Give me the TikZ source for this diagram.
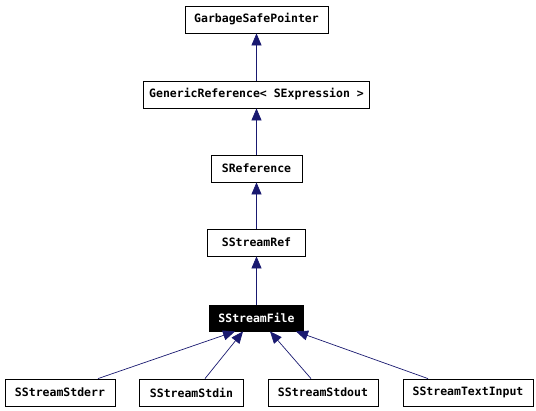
\documentclass[tikz,border=0pt]{standalone}
\usepackage{fontspec}
\setmonofont{DejaVu Sans Mono}
\usetikzlibrary{arrows.meta}
\definecolor{edge}{HTML}{191970}
\begin{document}
\begin{tikzpicture}[x=1pt,y=-1pt,
  cls/.style={draw=black,line width=0.8pt,fill=white,minimum height=27pt,inner sep=0pt,font=\ttfamily\bfseries\fontsize{11.5}{13}\selectfont},
  cur/.style={cls,fill=black,text=white},
  inh/.style={draw=edge,line width=0.7pt,{Triangle[length=12pt,width=10pt,fill=edge]}-}]
\useasboundingbox (0,0) rectangle (536,411);
\node[cls,minimum width=143pt] (gsp) at (256.5,19.5) {GarbageSafePointer};
\node[cls,minimum width=226pt] (gr) at (256.5,94.5) {GenericReference< SExpression >};
\node[cls,minimum width=91pt] (sref) at (256.5,168.5) {SReference};
\node[cls,minimum width=98pt] (ssr) at (256.5,242.5) {SStreamRef};
\node[cur,minimum width=94pt,minimum height=26pt] (ssf) at (256.5,318) {SStreamFile};
\node[cls,minimum width=110pt] (err) at (60,392.5) {SStreamStderr};
\node[cls,minimum width=104pt] (in) at (191.5,392.5) {SStreamStdin};
\node[cls,minimum width=110pt] (out) at (323,392.5) {SStreamStdout};
\node[cls,minimum width=130pt] (txt) at (468,392.5) {SStreamTextInput};
\draw[inh] (gsp.south) -- (gr.north);
\draw[inh] (gr.south) -- (sref.north);
\draw[inh] (sref.south) -- (ssr.north);
\draw[inh] (ssr.south) -- (ssf.north);
\draw[inh] ([xshift=-21.5pt]ssf.south) -- ([xshift=38pt]err.north);
\draw[inh] ([xshift=-13.5pt]ssf.south) -- ([xshift=13.5pt]in.north);
\draw[inh] ([xshift=13.5pt]ssf.south) -- ([xshift=-12pt]out.north);
\draw[inh] ([xshift=39.5pt]ssf.south) -- ([xshift=-40pt]txt.north);
\end{tikzpicture}
\end{document}
